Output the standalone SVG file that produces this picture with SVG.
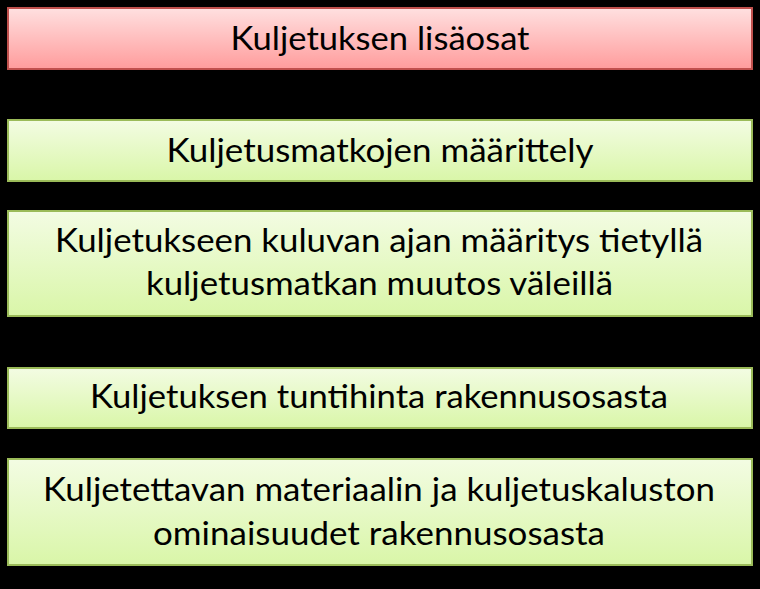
<svg xmlns="http://www.w3.org/2000/svg" width="760" height="589" viewBox="0 0 760 589">
<defs>
<linearGradient id="gRed" x1="0" y1="0" x2="0" y2="1">
<stop offset="0" stop-color="#FFE0E0"/>
<stop offset="1" stop-color="#FF9C9C"/>
</linearGradient>
<linearGradient id="gGreen" x1="0" y1="0" x2="0" y2="1">
<stop offset="0" stop-color="#F3FCE3"/>
<stop offset="1" stop-color="#D9F6A8"/>
</linearGradient>
<style>
.red{fill:url(#gRed);stroke:#C0504D;stroke-width:2}
.green{fill:url(#gGreen);stroke:#9BBB59;stroke-width:2}
text{font-family:Lato,"Liberation Sans",sans-serif;font-size:32px;fill:#000;text-anchor:middle}
.conn{stroke:#000;stroke-width:2;fill:none}
</style>
</defs>
<rect width="760" height="589" fill="#000"/>
<g id="connectors">
<line class="conn" x1="380" y1="69" x2="380" y2="120"/>
<line class="conn" x1="380" y1="181" x2="380" y2="211"/>
<line class="conn" x1="380" y1="316" x2="380" y2="368"/>
<line class="conn" x1="380" y1="428" x2="380" y2="459"/>
</g>
<g id="node1">
<rect class="red" x="8" y="8" width="744" height="61"/>
<text x="380" y="50" textLength="299" lengthAdjust="spacingAndGlyphs">Kuljetuksen lisäosat</text>
</g>
<g id="node2">
<rect class="green" x="8" y="120" width="744" height="61"/>
<text x="380" y="162" textLength="427" lengthAdjust="spacingAndGlyphs">Kuljetusmatkojen määrittely</text>
</g>
<g id="node3">
<rect class="green" x="8" y="211" width="744" height="105"/>
<text x="379" y="252" textLength="648" lengthAdjust="spacingAndGlyphs">Kuljetukseen kuluvan ajan määritys tietyllä</text>
<text x="379.5" y="295" textLength="467" lengthAdjust="spacingAndGlyphs">kuljetusmatkan muutos väleillä</text>
</g>
<g id="node4">
<rect class="green" x="8" y="368" width="744" height="60"/>
<text x="379" y="408" textLength="578" lengthAdjust="spacingAndGlyphs">Kuljetuksen tuntihinta rakennusosasta</text>
</g>
<g id="node5">
<rect class="green" x="8" y="459" width="744" height="106"/>
<text x="379" y="501" textLength="672" lengthAdjust="spacingAndGlyphs">Kuljetettavan materiaalin ja kuljetuskaluston</text>
<text x="379" y="545" textLength="452" lengthAdjust="spacingAndGlyphs">ominaisuudet rakennusosasta</text>
</g>
</svg>
